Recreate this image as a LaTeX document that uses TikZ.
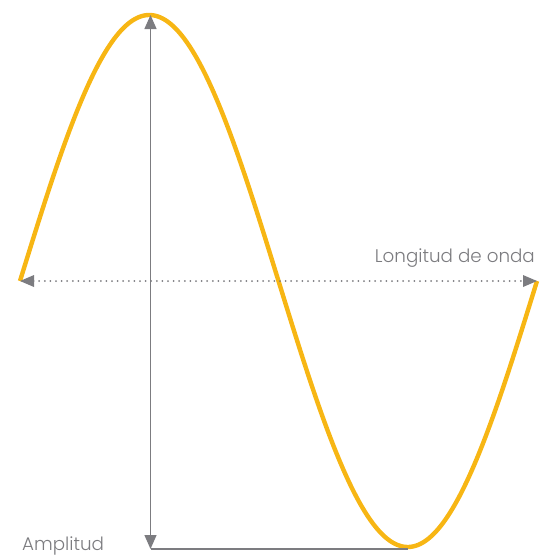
\documentclass[tikz,border=0pt]{standalone}
\usepackage{fontspec}
\setmainfont{Poppins}[UprightFont=* Light]
\usetikzlibrary{arrows.meta}
\definecolor{wave}{HTML}{F7B614}
\definecolor{axis}{HTML}{7C7C80}
\begin{document}
\begin{tikzpicture}[x=1pt,y=-1pt,
  lbl/.style={text=axis,font=\fontsize{18.3}{21}\selectfont,inner sep=0pt}]
\useasboundingbox (0,0) rectangle (539,555);
\coordinate (L) at (20,281);
\coordinate (R) at (537,281);
\coordinate (P) at (150.5,15);
\coordinate (B) at (150.5,549);
\coordinate (T) at (408,549);
\draw[wave,line width=4.4pt,line join=round] plot[domain=0:517,samples=300] ({20+\x},{281-266*sin(0.696325*\x)});
\draw[axis,line width=1.3pt,{Triangle[length=14pt,width=12pt]}-{Triangle[length=14pt,width=12pt]}] (B) -- (P);
\draw[axis,line width=1.3pt] (B) -- (T);
\draw[axis,line width=2pt,line cap=round,dash pattern=on 0pt off 5.6pt,shorten <=8pt,shorten >=8pt] (L) -- (R);
\fill[axis] (L) -- ++(14,-6) -- ++(0,12) -- cycle;
\fill[axis] (R) -- ++(-14,-6) -- ++(0,12) -- cycle;
\node[lbl,anchor=base east] (lw) at (535,262) {Longitud de onda};
\node[lbl,anchor=base west] (am) at (22,550) {Amplitud};
\end{tikzpicture}
\end{document}
